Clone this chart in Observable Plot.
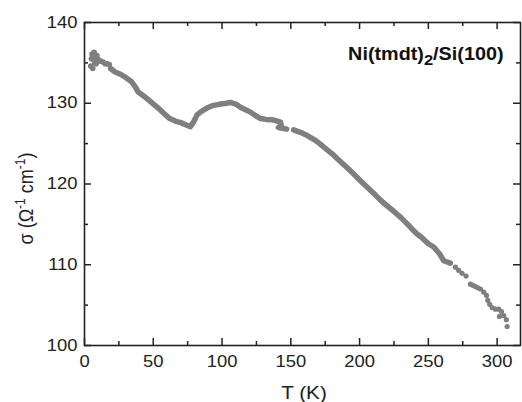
<!DOCTYPE html>
<html><head><meta charset="utf-8">
<script src="https://cdn.jsdelivr.net/npm/d3@7"></script>
<script src="https://cdn.jsdelivr.net/npm/@observablehq/plot@0.6"></script>
<style>body{margin:0;background:#fff} svg{display:block}</style>
</head><body><div id="chart"></div>
<script>
// noisy cluster at the lowest temperatures
const startT = [4.5, 5, 5.5, 6, 6.5, 7, 7.5, 8, 8.5, 9, 10, 11, 12, 13.5, 15, 16.5, 18];
const startS = [134.6, 135.5, 136.1, 134.3, 135.8, 136.3, 135.0, 135.6, 134.9, 135.9, 135.4, 135.3, 135.2, 135.1, 134.9, 134.9, 134.8];
// dense (continuous-looking) part of the measurement
const lineT = [19, 22, 26, 30, 34, 37, 39, 43, 48, 53, 58, 62, 66, 70, 74, 77, 79, 82, 85, 89, 93, 96, 99, 103, 106, 110, 113.4, 117, 120.7, 124, 128, 132, 136.4, 139, 142.5, 143, 141, 144, 147,
               152, 157, 162, 167, 171, 176, 181, 186, 191, 196, 200.6, 205, 210, 215.2, 220, 225, 229.7, 235, 239.4, 241.8, 245, 250, 253.9, 258, 261.2, 266];
const lineS = [134.3, 133.9, 133.6, 133.2, 132.7, 132.0, 131.4, 130.9, 130.2, 129.5, 128.7, 128.1, 127.8, 127.6, 127.3, 127.1, 127.6, 128.6, 129.0, 129.4, 129.7, 129.8, 129.9, 130.0, 130.1, 129.9, 129.5, 129.2, 128.9, 128.5, 128.1, 128.0, 127.95, 127.85, 127.65, 127.3, 127.0, 126.9, 126.8,
               126.7, 126.4, 126.0, 125.5, 125.0, 124.3, 123.6, 122.8, 122.0, 121.2, 120.4, 119.7, 118.9, 118.0, 117.3, 116.6, 115.9, 115.0, 114.2, 113.8, 113.4, 112.6, 112.2, 111.4, 110.5, 110.2];
const lineSeg = [1,1,1,1,1,1,1,1,1,1,1,1,1,1,1,1,1,1,1,1,1,1,1,1,1,1,1,1,1,1,1,1,1,1,1,1,1,1,1,
               2,2,2,2,2,2,2,2,2,2,2,2,2,2,2,2,2,2,2,2,2,2,2,2,2,2];
// sparse points at the high-temperature end
const tailT = [269.7, 272.1, 274.5, 277.4, 280.6, 282.4, 284.2, 286, 287.9, 290.3, 292.3, 293.2, 294.6, 296.4, 298.8, 301.2, 303.2, 304.8, 306.7, 301.7, 307.3];
const tailS = [109.7, 109.3, 108.95, 108.6, 107.6, 107.45, 107.3, 107.15, 107.0, 106.6, 106.2, 105.6, 105.1, 104.7, 104.5, 104.5, 104.2, 103.7, 103.2, 103.6, 102.35];

const xMajor = [0, 50, 100, 150, 200, 250, 300];
const xMinor = [25, 75, 125, 175, 225, 275];
const yMajor = [100, 110, 120, 130, 140];
const yMinor = [105, 115, 125, 135];
const xTitle = "T (K)";
const chartTitle = ["Ni(tmdt)", "2", "/Si(100)"];

const W = 522, H = 402, mL = 84, mR = 2, mT = 22, mB = 57;
const plotW = W - mL - mR, plotH = H - mT - mB;
const ink = "#222", grey = "#7f7f7f";

const startData = startT.map((t, i) => ({T: t, s: startS[i]}));
const lineData = lineT.map((t, i) => ({T: t, s: lineS[i], seg: lineSeg[i]}));
const tailData = tailT.map((t, i) => ({T: t, s: tailS[i]}));

const chart = Plot.plot({
  width: W, height: H,
  marginLeft: mL, marginRight: mR, marginTop: mT, marginBottom: mB,
  style: {fontFamily: "'Liberation Sans', Arial, sans-serif", fontSize: "16px", color: ink, background: "#fff"},
  x: {domain: [0, 317]},
  y: {domain: [100, 140]},
  marks: [
    Plot.line(lineData, {x: "T", y: "s", z: "seg", stroke: grey, strokeWidth: 5.5, strokeLinejoin: "round", strokeLinecap: "round"}),
    Plot.dot(startData, {x: "T", y: "s", r: 2.8, fill: grey}),
    Plot.dot(tailData, {x: "T", y: "s", r: 2.6, fill: grey}),
    Plot.frame({stroke: ink, strokeWidth: 1.6}),
    Plot.tickX(xMajor, {x: d => d, insetTop: plotH - 7, stroke: ink, strokeWidth: 1.5}),
    Plot.tickX(xMinor, {x: d => d, insetTop: plotH - 4, stroke: ink, strokeWidth: 1.5}),
    Plot.tickX(xMajor, {x: d => d, insetBottom: plotH - 7, stroke: ink, strokeWidth: 1.5}),
    Plot.tickX(xMinor, {x: d => d, insetBottom: plotH - 4, stroke: ink, strokeWidth: 1.5}),
    Plot.tickY(yMajor, {y: d => d, insetRight: plotW - 7, stroke: ink, strokeWidth: 1.5}),
    Plot.tickY(yMinor, {y: d => d, insetRight: plotW - 4, stroke: ink, strokeWidth: 1.5}),
    Plot.tickY(yMajor, {y: d => d, insetLeft: plotW - 7, stroke: ink, strokeWidth: 1.5}),
    Plot.tickY(yMinor, {y: d => d, insetLeft: plotW - 4, stroke: ink, strokeWidth: 1.5}),
    Plot.axisX({ticks: xMajor, tickSize: 0, tickPadding: 10, label: null, fontSize: 16, fill: ink}),
    Plot.axisY({ticks: yMajor, tickSize: 0, tickPadding: 7, label: null, fontSize: 16, fill: ink})
  ]
});

const svg = d3.select(chart);
const SX = 1.15;
// the reference's lettering is slightly wide: stretch every tick label horizontally
svg.selectAll("text").each(function() {
  const t = this.getAttribute("transform");
  if (t) this.setAttribute("transform", t + ` scale(${SX},1)`);
});

const xs = chart.scale("x"), ys = chart.scale("y");
const font = "'Liberation Sans', Arial, sans-serif";

// x-axis title
svg.append("text")
  .attr("transform", `translate(${(mL + W - mR) / 2 + 2},${H - 3}) scale(${SX},1)`)
  .attr("text-anchor", "middle").attr("font-family", font).attr("font-size", 18).attr("fill", ink)
  .text(xTitle);

// y-axis title with superscripts
const yt = svg.append("text")
  .attr("transform", `translate(33,${mT + plotH / 2 + 15}) scale(${SX},1) rotate(-90)`)
  .attr("text-anchor", "middle").attr("font-family", font).attr("font-size", 18).attr("fill", ink);
yt.append("tspan").text("σ (Ω");
yt.append("tspan").attr("font-size", 12).attr("dy", -7).text("-1");
yt.append("tspan").attr("dy", 7).text(" cm");
yt.append("tspan").attr("font-size", 12).attr("dy", -7).text("-1");
yt.append("tspan").attr("dy", 7).text(")");

// in-plot title
const tt = svg.append("text")
  .attr("transform", `translate(${xs.apply(305)},${ys.apply(135.3)}) scale(1.1,1)`)
  .attr("text-anchor", "end").attr("font-family", font).attr("font-size", 18)
  .attr("font-weight", "bold").attr("fill", "#111");
tt.append("tspan").text(chartTitle[0]);
tt.append("tspan").attr("font-size", 15).attr("dy", 5).text(chartTitle[1]);
tt.append("tspan").attr("dy", -5).text(chartTitle[2]);

document.getElementById("chart").append(chart);
</script>
</body></html>
